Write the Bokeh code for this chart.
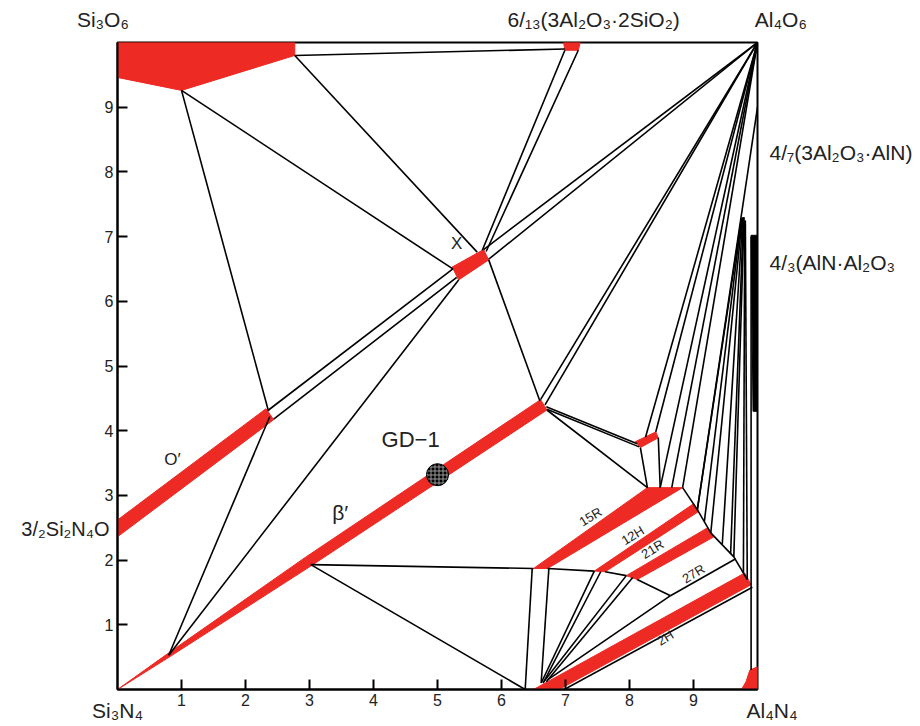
from bokeh.plotting import figure
from bokeh.models import Label, FixedTicker, Range1d, LinearAxis
from bokeh.embed import file_html
from bokeh.resources import INLINE

# ---------------- data (equivalent-% coordinates, 0..10) ----------------
# single-phase regions (red)
sio2_x = [0, 2.77, 2.77, 1.0, 0]
sio2_y = [10, 10, 9.8, 9.26, 9.46]
mullite_x = [6.97, 7.23, 7.2, 6.99]
mullite_y = [10, 10, 9.88, 9.88]
xphase_x = [5.23, 5.33, 5.8, 5.72]
xphase_y = [6.53, 6.33, 6.64, 6.8]
oprime_x = [0, 0, 2.32, 2.44]
oprime_y = [2.36, 2.62, 4.34, 4.17]
beta_x = [0, 0.785, 2.956, 6.61, 6.71, 3.044, 0.815]
beta_y = [0, 0.555, 2.057, 4.48, 4.32, 1.923, 0.505]
spot_x = [8.09, 8.41, 8.45, 8.17]
spot_y = [3.83, 3.98, 3.89, 3.74]
r15_x = [6.5, 8.28, 8.83, 6.72]
r15_y = [1.87, 3.12, 3.12, 1.87]
h12_x = [7.45, 9.0, 9.08, 7.62]
h12_y = [1.83, 2.87, 2.75, 1.82]
r21_x = [7.95, 9.22, 9.32, 8.12]
r21_y = [1.76, 2.5, 2.36, 1.7]
h2_x = [6.5, 9.8, 9.9, 6.9]
h2_y = [0, 1.8, 1.62, 0]
aln_x = [9.75, 9.82, 9.88, 10, 10]
aln_y = [0, 0.12, 0.3, 0.35, 0]

red_regions = [(sio2_x, sio2_y), (mullite_x, mullite_y), (xphase_x, xphase_y),
               (oprime_x, oprime_y), (beta_x, beta_y), (spot_x, spot_y),
               (r15_x, r15_y), (h12_x, h12_y), (r21_x, r21_y), (h2_x, h2_y),
               (aln_x, aln_y)]

# narrow black phase field along the AlN-Al2O3 edge
bar_x = [9.9, 10, 10, 9.93]
bar_y = [7.02, 7.02, 4.3, 4.3]

# tie lines (x0, y0, x1, y1)
ties_upper = [
    (2.77, 9.8, 6.99, 9.9),
    (2.77, 9.8, 5.62, 6.76),
    (1.0, 9.26, 5.24, 6.5),
    (1.0, 9.26, 2.36, 4.3),
    (2.36, 4.32, 5.24, 6.5),
    (2.44, 4.18, 5.3, 6.37),
    (2.38, 4.22, 0.8, 0.53),
    (0.8, 0.53, 5.33, 6.33),
    (5.7, 6.79, 6.99, 9.88),
    (5.76, 6.77, 7.2, 9.88),
    (5.72, 6.8, 10, 10),
    (5.8, 6.65, 10, 10),
    (5.8, 6.64, 6.6, 4.46),
]
ties_middle = [
    (6.61, 4.48, 10, 10),
    (6.68, 4.4, 10, 10),
    (6.7, 4.37, 8.12, 3.8),
    (6.71, 4.33, 8.15, 3.75),
    (6.71, 4.32, 8.28, 3.12),
    (8.25, 3.9, 10, 10),
    (8.41, 3.98, 10, 10),
    (8.17, 3.74, 8.28, 3.12),
    (8.45, 3.89, 8.48, 3.12),
    (10, 10, 8.48, 3.12),
    (10, 10, 8.66, 3.12),
    (10, 10, 8.83, 3.12),
    (10, 9.0, 9.06, 2.78),
]
ties_fan = [
    (9.75, 7.28, 9.06, 2.78),
    (9.75, 7.28, 9.17, 2.6),
    (9.76, 7.28, 9.27, 2.42),
    (9.77, 7.3, 9.45, 2.25),
    (9.78, 7.3, 9.58, 2.1),
    (9.79, 7.3, 9.63, 2.05),
    (9.8, 7.25, 9.78, 1.8),
    (9.81, 7.25, 9.84, 1.7),
    (9.9, 7.0, 9.9, 0.3),
]
ties_lower = [
    (3.02, 1.93, 6.5, 1.87),
    (6.72, 1.87, 7.45, 1.83),
    (7.62, 1.82, 7.95, 1.76),
    (8.12, 1.7, 8.64, 1.45),
    (8.64, 1.45, 9.66, 2.02),
    (3.02, 1.93, 6.37, 0),
    (6.48, 1.87, 6.37, 0),
    (6.74, 1.87, 6.62, 0.1),
    (7.45, 1.83, 6.62, 0.1),
    (7.55, 1.82, 6.65, 0.1),
    (7.95, 1.76, 6.66, 0.12),
    (8.05, 1.73, 6.7, 0.12),
    (8.64, 1.45, 6.72, 0.15),
    (8.83, 3.12, 9.06, 2.78),
    (9.06, 2.78, 9.27, 2.42),
    (9.27, 2.42, 9.63, 2.05),
    (9.63, 2.05, 9.84, 1.7),
    (6.98, 0, 9.92, 1.58),
]

ticks = [1, 2, 3, 4, 5, 6, 7, 8, 9]

# corner / edge compositions
NB = "\u00a0"
bottom_pos = [0, 10]
bottom_names = {0: "Si₃N₄", 10: NB * 5 + "Al₄N₄"}
top_pos = [0, 7.44, 10]
top_names = {0: "Si₃O₆" + NB * 5, 7.44: "6/₁₃(3Al₂O₃·2SiO₂)", 10: NB * 8 + "Al₄O₆"}
right_pos = [8.3, 6.6]
right_names = {8.3: "4/₇(3Al₂O₃·AlN)", 6.6: "4/₃(AlN·Al₂O₃"}
left_pos = [2.48]
left_names = {2.48: "3/₂Si₂N₄O"}

gd1_x = [5.0]
gd1_y = [3.32]

FONT = "Liberation Sans"
TXT = "#222222"

# ---------------- figure ----------------
p = figure(width=916, height=724, output_backend="svg", toolbar_location=None,
           x_range=Range1d(0, 10), y_range=Range1d(0, 10),
           min_border_left=117, min_border_right=159, min_border_top=42,
           min_border_bottom=34)
p.xgrid.visible = False
p.ygrid.visible = False
p.outline_line_color = "black"
p.outline_line_width = 2
p.background_fill_color = "white"
p.border_fill_color = "white"

xa = p.xaxis[0]
ya = p.yaxis[0]
xa.ticker = FixedTicker(ticks=ticks)
ya.ticker = FixedTicker(ticks=ticks)
for ax in (xa, ya):
    ax.major_tick_in = 10
    ax.major_tick_out = 0
    ax.minor_tick_line_color = None
    ax.axis_line_width = 2
    ax.major_tick_line_width = 2
    ax.major_label_text_font = FONT
    ax.major_label_text_font_size = "16px"
    ax.major_label_text_color = TXT
    ax.major_label_standoff = 4


def name_axis(pos, names, size, standoff):
    return LinearAxis(ticker=FixedTicker(ticks=pos), major_label_overrides=names,
                      axis_line_color=None, major_tick_line_color=None,
                      minor_tick_line_color=None, major_label_text_font=FONT,
                      major_label_text_font_size=size, major_label_text_color=TXT,
                      major_label_standoff=standoff)

p.add_layout(name_axis(top_pos, top_names, "21px", 6), "above")
p.add_layout(name_axis(right_pos, right_names, "21px", 6), "right")
p.add_layout(name_axis(left_pos, left_names, "20px", -14), "left")
p.add_layout(name_axis(bottom_pos, bottom_names, "21px", -16), "below")

RED = "#ee2a24"
for xs, ys in red_regions:
    p.patch(xs, ys, fill_color=RED, line_color=RED, line_width=1)
p.patch(bar_x, bar_y, fill_color="black", line_color="black")

for group in (ties_upper, ties_middle, ties_fan, ties_lower):
    p.segment([g[0] for g in group], [g[1] for g in group],
              [g[2] for g in group], [g[3] for g in group],
              line_color="black", line_width=1.6)

p.scatter(gd1_x, gd1_y, size=22, marker="circle", fill_color="black",
          line_color="black", hatch_pattern="+", hatch_color="#9a9a9a",
          hatch_scale=4, hatch_weight=1)


def lab(x, y, t, size="18px", angle=0):
    p.add_layout(Label(x=x, y=y, text=t, text_font=FONT, text_font_size=size,
                       text_align="center", text_baseline="middle", angle=angle,
                       text_color=TXT))

lab(4.58, 3.86, "GD−1", size="22px")
lab(5.3, 6.9, "X", size="17px")
lab(0.86, 3.55, "O′", size="17px")
lab(3.48, 2.73, "β′", size="21px")
lab(7.39, 2.67, "15R", size="13px", angle=0.55)
lab(8.05, 2.38, "12H", size="13px", angle=0.55)
lab(8.36, 2.17, "21R", size="13px", angle=0.55)
lab(9.0, 1.79, "27R", size="13px", angle=0.55)
lab(8.56, 0.8, "2H", size="13px", angle=0.55)

open("out.html", "w").write(file_html(p, INLINE))
